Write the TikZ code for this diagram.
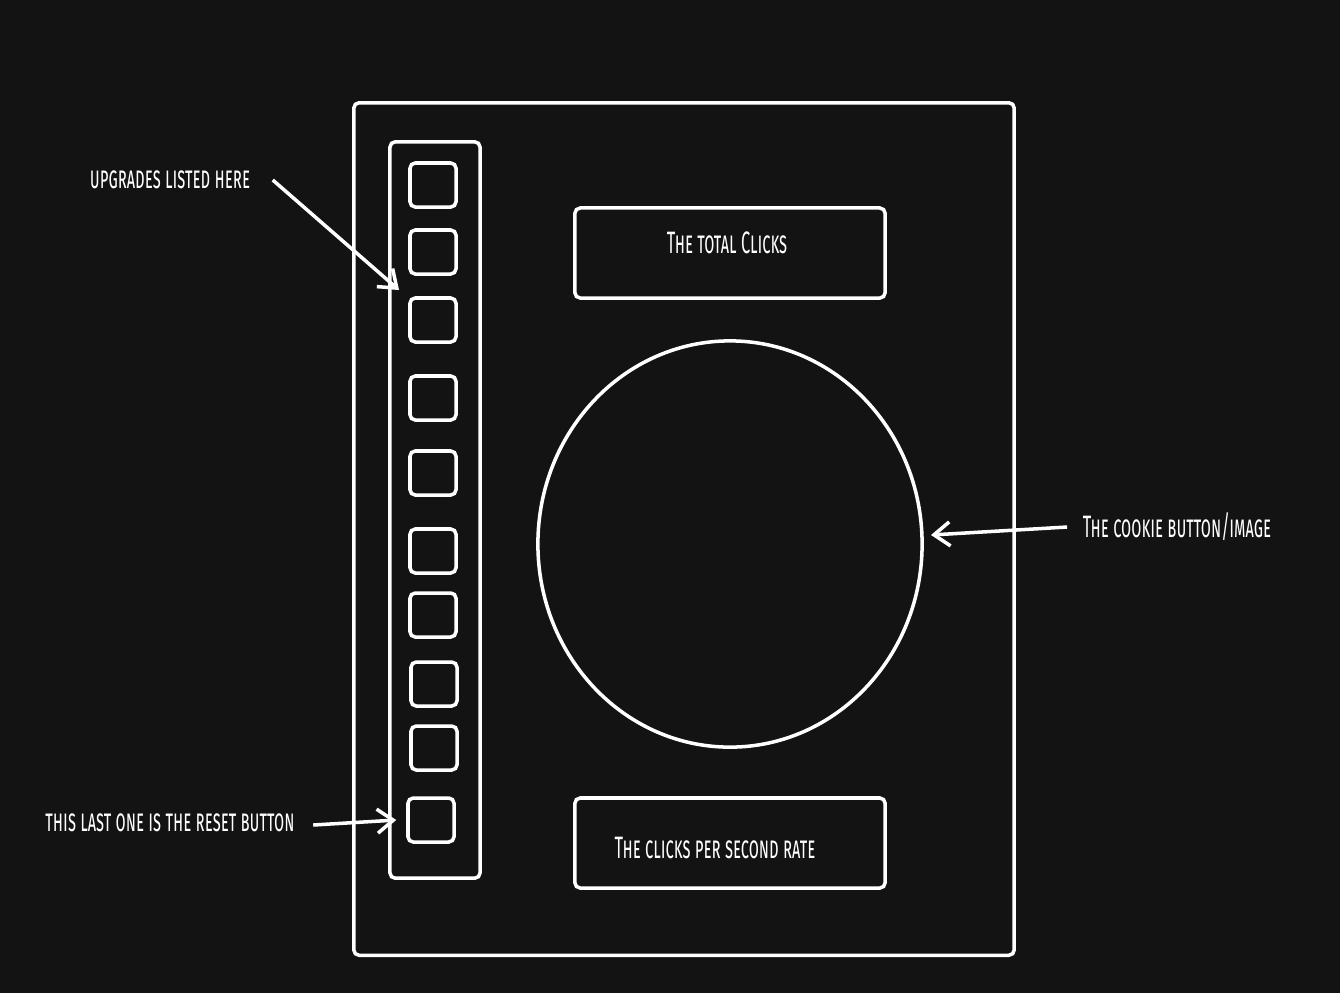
\documentclass[tikz,border=0pt]{standalone}
\usepackage{fontspec}
\newfontfamily\sketchfont[FakeStretch=0.53]{Fira Sans}
\usetikzlibrary{positioning, arrows.meta, shapes.geometric}
\definecolor{bgdark}{RGB}{19,19,19}

\begin{document}
\begin{tikzpicture}[
        x=0.01cm, y=-0.01cm,
        box/.style={rectangle, draw=white, line width=1pt, rounded corners=1.5pt, inner sep=0pt},
        upg/.style={box, minimum width=0.46cm, minimum height=0.44cm},
        lbl/.style={text=white, font=\sketchfont\scshape\fontsize{8.8}{10}\selectfont, inner sep=0pt},
        note/.style={draw=white, line width=1pt, -{Straight Barb[length=1.6mm, width=2.4mm]}}
    ]

    \fill[bgdark] (0,0) rectangle (1340,993);

    \node[box, minimum width=6.6cm, minimum height=8.52cm] (page) at (684,529) {};
    \node[box, minimum width=0.9cm, minimum height=7.36cm] (column) at (435,510) {};

    % upgrade slots
    \foreach \n/\xx/\yy in {1/433/185, 2/433/252, 3/433/320, 4/433/398, 5/433/473,
                            6/433/551, 7/433/615, 8/434/684, 9/434/748, 10/431/820}
        \node[upg] (u\n) at (\xx,\yy) {};

    \node[box, minimum width=3.1cm, minimum height=0.9cm] (total) at (730,253) {};
    \node[lbl] (totaltxt) at (727,243) {The total Clicks};
    \node[box, minimum width=3.1cm, minimum height=0.9cm] (rate) at (730,843) {};
    \node[lbl] (ratetxt) at (715,848) {The clicks per second rate};

    \node[ellipse, draw=white, line width=1pt, minimum width=3.84cm, minimum height=4.06cm] (cookie) at (730,544) {};

    \node[lbl] (upgtxt) at (170,180) {upgrades listed here};
    \node[lbl] (resettxt) at (170,823) {this last one is the reset button};
    \node[lbl] (cookietxt) at (1177,527) {The cookie button/image};

    \coordinate (upgtip) at (399,290);
    \coordinate (cookietip) at (931,535);
    \draw[note] ([xshift=0.22cm]upgtxt.east) -- (upgtip);
    \draw[note] ([xshift=0.18cm, yshift=-0.02cm]resettxt.east) -- ([xshift=-0.1cm]u10.west);
    \draw[note] ([xshift=-0.15cm]cookietxt.west) -- (cookietip);

\end{tikzpicture}
\end{document}
